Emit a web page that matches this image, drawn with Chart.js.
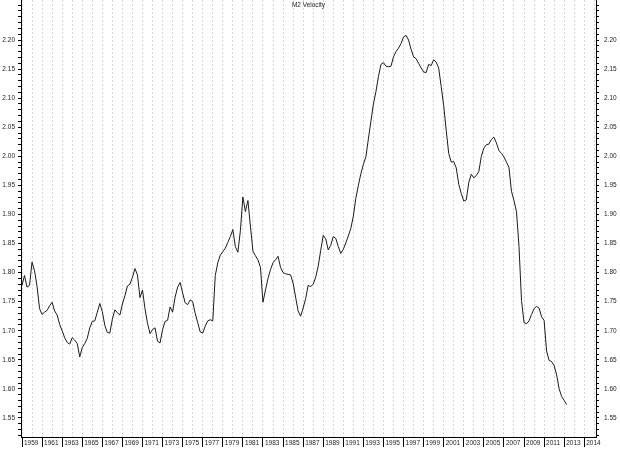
<!DOCTYPE html>
<html>
<head>
<meta charset="utf-8">
<title>M2 Velocity</title>
<script src="https://cdn.jsdelivr.net/npm/chart.js@4/dist/chart.umd.min.js"></script>
<style>
  html, body { margin: 0; padding: 0; background: #fff; }
  #wrap { width: 620px; height: 449px; position: relative; }
</style>
</head>
<body>
<div id="wrap"><canvas id="m2-chart"></canvas></div>
<script>
// quarterly series, first value is 1959 Q1
const startYear = 1959;
const velocity = [
  1.778, 1.795, 1.775, 1.778, 1.818, 1.803, 1.776, 1.738, 1.728, 1.732,
  1.735, 1.743, 1.749, 1.734, 1.727, 1.711, 1.700, 1.688, 1.680, 1.677,
  1.688, 1.684, 1.678, 1.655, 1.671, 1.678, 1.687, 1.705, 1.716, 1.717,
  1.732, 1.747, 1.733, 1.709, 1.697, 1.696, 1.720, 1.736, 1.731, 1.727,
  1.746, 1.760, 1.777, 1.780, 1.792, 1.807, 1.796, 1.757, 1.770, 1.738,
  1.713, 1.695, 1.702, 1.705, 1.682, 1.679, 1.702, 1.716, 1.718, 1.741,
  1.732, 1.758, 1.775, 1.783, 1.765, 1.748, 1.745, 1.753, 1.750, 1.730,
  1.714, 1.698, 1.696, 1.708, 1.717, 1.719, 1.717, 1.795, 1.817, 1.830,
  1.836, 1.842, 1.852, 1.862, 1.874, 1.845, 1.835, 1.872, 1.930, 1.905,
  1.924, 1.880, 1.837, 1.829, 1.822, 1.809, 1.749, 1.770, 1.790, 1.805,
  1.817, 1.822, 1.828, 1.809, 1.800, 1.798, 1.797, 1.796, 1.782, 1.758,
  1.734, 1.725, 1.739, 1.755, 1.778, 1.776, 1.780, 1.792, 1.811, 1.838,
  1.864, 1.858, 1.839, 1.847, 1.862, 1.859, 1.845, 1.833, 1.840, 1.851,
  1.863, 1.876, 1.897, 1.928, 1.950, 1.970, 1.986, 1.999, 2.030, 2.060,
  2.090, 2.111, 2.137, 2.158, 2.161, 2.155, 2.154, 2.155, 2.171, 2.180,
  2.186, 2.194, 2.205, 2.208, 2.200, 2.184, 2.171, 2.168, 2.160, 2.152,
  2.145, 2.144, 2.158, 2.156, 2.166, 2.162, 2.152, 2.120, 2.087, 2.045,
  2.005, 1.990, 1.991, 1.980, 1.952, 1.936, 1.923, 1.925, 1.955, 1.969,
  1.963, 1.967, 1.974, 2.000, 2.014, 2.020, 2.021, 2.029, 2.033, 2.023,
  2.010, 2.005, 1.999, 1.990, 1.981, 1.940, 1.924, 1.905, 1.845, 1.752,
  1.714, 1.712, 1.717, 1.728, 1.738, 1.742, 1.739, 1.724, 1.718, 1.665,
  1.649, 1.647, 1.640, 1.624, 1.600, 1.587, 1.580, 1.573
];

const xTickYears = [1959, 1961, 1963, 1965, 1967, 1969, 1971, 1973, 1975, 1977,
  1979, 1981, 1983, 1985, 1987, 1989, 1991, 1993, 1995, 1997, 1999, 2001, 2003,
  2005, 2007, 2009, 2011, 2013, 2015];
const xTickText = ['1959', '1961', '1963', '1965', '1967', '1969', '1971', '1973',
  '1975', '1977', '1979', '1981', '1983', '1985', '1987', '1989', '1991', '1993',
  '1995', '1997', '1999', '2001', '2003', '2005', '2007', '2009', '2011', '2013', '2014'];
const yTickText = ['1.55', '1.60', '1.65', '1.70', '1.75', '1.80', '1.85', '1.90',
  '1.95', '2.00', '2.05', '2.10', '2.15', '2.20'];

const chartTitle = 'M2 Velocity';

const X_MIN = 1958.9, X_MAX = 2016.17;
const Y_MIN = 1.5173, Y_MAX = 2.2688;
const labelFont = { family: '"Liberation Sans", Arial, sans-serif', size: 6.5 };

const points = velocity.map((v, i) => ({ x: startYear + i / 4, y: v }));

function yLabel(value) {
  const s = (Math.round(value * 100) / 100).toFixed(2);
  return yTickText.includes(s) ? s : '';
}

function xLabel(value) {
  const k = xTickYears.indexOf(Math.round(value));
  return k >= 0 ? xTickText[k] : '';
}

const titlePlugin = {
  id: 'smallTitle',
  afterDraw(chart) {
    const { ctx, chartArea } = chart;
    ctx.save();
    ctx.font = '6.5px "Liberation Sans", Arial, sans-serif';
    ctx.fillStyle = '#222';
    ctx.textAlign = 'center';
    ctx.textBaseline = 'top';
    ctx.fillText(chartTitle, (chartArea.left + chartArea.right) / 2, 2);
    ctx.restore();
  }
};

function yAxis(position, width, padding) {
  return {
    type: 'linear',
    position,
    min: Y_MIN,
    max: Y_MAX,
    grid: {
      drawOnChartArea: false,
      color: '#000',
      tickColor: '#000',
      tickLength: 3,
    },
    border: { color: '#000', width: 1 },
    ticks: {
      stepSize: 0.01,
      includeBounds: false,
      autoSkip: false,
      padding,
      color: '#222',
      font: labelFont,
      callback: v => yLabel(v),
    },
    afterFit: s => {
      s.width = width;
      s.paddingTop = 0;
      s.paddingBottom = 0;
    },
  };
}

const ctx = document.getElementById('m2-chart').getContext('2d');

new Chart(ctx, {
  type: 'line',
  data: {
    datasets: [{
      label: chartTitle,
      data: points,
      borderColor: '#1a1a1a',
      borderWidth: 1,
      pointRadius: 0,
      tension: 0,
      fill: false,
      yAxisID: 'y',
    }],
  },
  options: {
    responsive: true,
    maintainAspectRatio: false,
    animation: false,
    layout: { padding: 0 },
    plugins: {
      legend: { display: false },
      tooltip: { enabled: false },
      title: { display: false },
    },
    scales: {
      x: {
        type: 'linear',
        position: 'bottom',
        min: X_MIN,
        max: X_MAX,
        grid: {
          color: '#d4d4d4',
          lineWidth: 1,
          tickLength: 10,
          tickColor: c => (c.tick && xLabel(c.tick.value) ? '#000' : 'rgba(0,0,0,0)'),
          tickBorderDash: [],
        },
        border: { color: '#000', width: 1, dash: [2, 2] },
        ticks: {
          stepSize: 1,
          includeBounds: false,
          autoSkip: false,
          maxRotation: 0,
          minRotation: 0,
          align: 'start',
          labelOffset: 2,
          padding: -8,
          color: '#222',
          font: labelFont,
          callback: v => xLabel(v),
        },
        afterFit: s => {
          s.height = 12;
          s.paddingLeft = 0;
          s.paddingRight = 0;
        },
      },
      y: yAxis('left', 21, 3),
      y2: yAxis('right', 24, 5),
    },
  },
  plugins: [titlePlugin],
});
</script>
</body>
</html>
